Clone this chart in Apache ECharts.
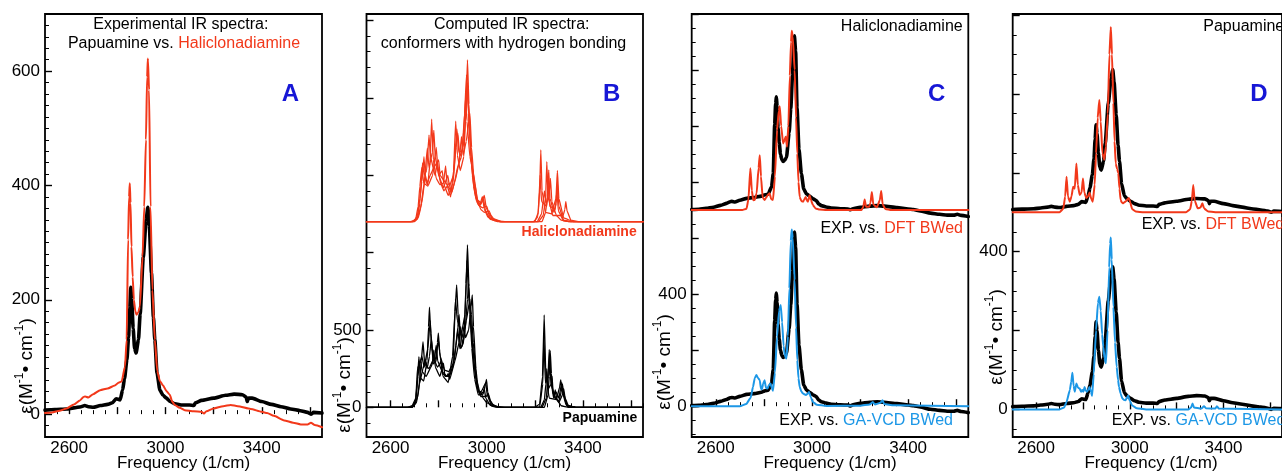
<!DOCTYPE html>
<html><head><meta charset="utf-8">
<script src="https://cdn.jsdelivr.net/npm/echarts@6/dist/echarts.min.js"></script>
<style>html,body{margin:0;padding:0;background:#fff}#c{width:1282px;height:473px}</style>
</head><body><div id="c"></div>
<script>
// ---------------- DATA ----------------
const xMin = 2500, xMax = 3650;
const xMajorTicks = [2600, 2800, 3000, 3200, 3400, 3600];
const xTickLabels = [2600, 3000, 3400];
const xMinorTicks = [2550, 2650, 2700, 2750, 2850, 2900, 2950, 3050, 3100, 3150, 3250, 3300, 3350, 3450, 3500, 3550, 3650];

// Experimental spectra (epsilon, M^-1 cm^-1)
const papuExp = [[2500,7],[2540,8],[2590,9],[2620,11],[2650,13],[2665,15],[2680,13],[2700,12],[2730,15],[2760,17],[2780,20],[2795,27],[2812,25],[2822,42],[2830,62],[2840,95],[2847,135],[2852,185],[2856,222],[2860,200],[2866,150],[2872,115],[2878,107],[2888,130],[2895,175],[2908,275],[2920,340],[2927,362],[2933,330],[2942,247],[2950,170],[2956,130],[2965,72],[2977,42],[2990,33],[3004,28],[3020,22],[3040,18],[3070,16],[3100,16],[3118,15],[3125,20],[3150,24],[3200,28],[3250,33],[3285,35],[3320,34],[3335,30],[3340,22],[3345,28],[3360,28],[3400,22],[3440,17],[3480,13],[3520,9],[3560,6],[3590,3],[3604,0],[3615,3],[3650,2]];
const haliExp = [[2500,2],[2530,3],[2560,6],[2590,10],[2620,17],[2645,24],[2660,30],[2667,31],[2680,29],[2700,35],[2729,42],[2760,45],[2790,50],[2805,55],[2818,57],[2832,83],[2839,130],[2845,305],[2849,380],[2852,404],[2855,370],[2859,293],[2864,240],[2869,200],[2875,180],[2880,174],[2887,178],[2894,188],[2905,276],[2912,363],[2919,480],[2924,590],[2927,622],[2932,567],[2938,363],[2946,217],[2956,130],[2966,75],[2977,58],[2990,50],[3005,40],[3018,34],[3028,22],[3039,16],[3059,11],[3080,7],[3118,5],[3150,4],[3160,1],[3170,5],[3200,10],[3240,14],[3271,16],[3300,14],[3354,9],[3400,4],[3422,2],[3450,-3],[3493,-11],[3530,-15],[3562,-18],[3590,-18],[3604,-15],[3620,-19],[3650,-23]];

// Computed spectra panel C/D
const haliDFT = [[2500,0],[2710,0],[2728,5],[2736,40],[2744,149],[2750,70],[2756,35],[2762,36],[2770,60],[2778,150],[2783,196],[2788,120],[2795,45],[2803,36],[2810,45],[2817,55],[2824,60],[2830,40],[2838,36],[2846,120],[2855,286],[2862,355],[2866,371],[2872,300],[2880,238],[2886,250],[2891,262],[2896,226],[2902,300],[2908,480],[2913,600],[2916,640],[2920,620],[2928,500],[2934,330],[2939,202],[2944,100],[2949,47],[2956,32],[2963,30],[2968,38],[2974,47],[2978,35],[2983,30],[2990,53],[2996,35],[3004,18],[3015,6],[3032,2],[3060,0],[3205,0],[3213,10],[3219,38],[3225,12],[3238,12],[3243,25],[3249,65],[3255,20],[3270,10],[3282,35],[3288,68],[3294,20],[3305,4],[3330,0],[3650,0]];
const haliGA = [[2500,0],[2700,0],[2727,8],[2745,30],[2755,69],[2762,100],[2769,111],[2776,100],[2783,93],[2788,62],[2792,60],[2797,80],[2803,93],[2809,65],[2815,63],[2821,75],[2828,81],[2833,65],[2838,55],[2846,120],[2855,248],[2863,340],[2870,361],[2876,300],[2882,215],[2888,178],[2894,170],[2900,250],[2906,420],[2912,590],[2916,631],[2920,600],[2928,450],[2934,280],[2939,164],[2944,100],[2949,69],[2956,52],[2963,45],[2975,40],[2983,45],[2988,51],[2995,32],[3004,15],[3020,5],[3060,1],[3200,2],[3240,6],[3253,15],[3262,6],[3285,12],[3293,21],[3300,8],[3340,3],[3650,0]];
const papuDFT = [[2500,0],[2700,0],[2716,9],[2724,40],[2730,90],[2736,40],[2744,27],[2751,40],[2758,65],[2765,60],[2772,124],[2778,70],[2786,44],[2794,50],[2800,86],[2806,50],[2814,36],[2821,40],[2828,50],[2835,35],[2842,27],[2850,70],[2856,150],[2863,240],[2870,285],[2876,230],[2883,150],[2891,133],[2898,167],[2906,250],[2913,400],[2919,470],[2924,400],[2930,277],[2935,180],[2940,124],[2946,110],[2951,99],[2956,60],[2961,31],[2966,25],[2972,23],[2978,26],[2984,28],[2990,33],[2996,36],[3002,25],[3010,8],[3025,2],[3060,0],[3240,0],[3258,8],[3265,30],[3271,69],[3277,30],[3290,10],[3302,12],[3310,23],[3317,10],[3335,2],[3380,0],[3650,0]];
const papuGA = [[2500,0],[2700,0],[2720,5],[2730,19],[2744,49],[2750,70],[2755,93],[2760,60],[2765,45],[2772,66],[2779,55],[2786,53],[2792,45],[2797,49],[2802,45],[2807,57],[2812,48],[2817,45],[2823,50],[2828,57],[2834,45],[2839,34],[2846,90],[2856,201],[2864,270],[2870,286],[2876,250],[2882,190],[2887,159],[2892,130],[2898,117],[2905,200],[2912,360],[2916,420],[2919,436],[2923,380],[2930,260],[2937,170],[2944,108],[2950,75],[2954,57],[2961,40],[2968,28],[2975,24],[2982,23],[2988,30],[2993,35],[3000,22],[3010,10],[3030,3],[3070,0],[3250,0],[3262,5],[3268,15],[3274,5],[3305,2],[3317,8],[3325,3],[3365,2],[3372,8],[3380,2],[3650,0]];

// Panel B conformers (Haliclonadiamine shifted by haliOffsetB)
const haliConf1 = [[2500,0],[2680,0],[2700,8],[2712,40],[2722,150],[2730,260],[2739,420],[2746,260],[2755,240],[2764,380],[2771,663],[2778,400],[2790,280],[2805,240],[2820,250],[2829,361],[2836,230],[2850,160],[2862,330],[2871,650],[2878,430],[2890,330],[2905,420],[2914,760],[2920,1046],[2926,760],[2935,420],[2945,230],[2958,130],[2970,100],[2982,162],[2990,80],[3005,30],[3030,8],[3060,0],[3195,0],[3212,30],[3220,200],[3225,464],[3230,200],[3245,60],[3270,50],[3288,150],[3294,331],[3300,150],[3320,25],[3360,0],[3650,0]];
const haliConf2 = [[2500,0],[2690,0],[2710,15],[2725,90],[2740,250],[2753,475],[2760,350],[2774,450],[2780,590],[2786,420],[2800,300],[2815,330],[2822,240],[2840,170],[2860,250],[2872,480],[2880,572],[2888,420],[2902,480],[2912,650],[2920,900],[2928,620],[2940,300],[2955,150],[2975,110],[2990,170],[2998,90],[3015,25],[3050,3],[3080,0],[3215,0],[3235,40],[3245,150],[3250,389],[3255,160],[3275,40],[3318,40],[3325,80],[3329,130],[3334,70],[3350,10],[3380,0],[3650,0]];
const haliConf3 = [[2500,0],[2690,0],[2705,20],[2715,100],[2722,230],[2730,350],[2738,250],[2755,230],[2775,300],[2790,480],[2796,360],[2808,250],[2822,200],[2845,250],[2852,180],[2868,260],[2885,380],[2895,550],[2902,430],[2915,520],[2930,700],[2937,480],[2950,200],[2965,110],[2982,90],[3000,100],[3008,60],[3025,15],[3060,0],[3230,0],[3245,60],[3252,160],[3258,335],[3263,150],[3280,60],[3289,120],[3294,250],[3300,100],[3320,10],[3350,0],[3650,0]];
const haliConf4 = [[2500,0],[2700,0],[2715,25],[2730,120],[2745,300],[2752,250],[2765,300],[2780,350],[2800,400],[2806,300],[2830,250],[2855,190],[2865,250],[2880,360],[2895,420],[2905,600],[2912,800],[2918,650],[2930,420],[2945,313],[2960,150],[2975,80],[2990,60],[3010,70],[3018,40],[3029,20],[3060,0],[3210,0],[3228,50],[3240,200],[3246,120],[3258,150],[3265,280],[3271,130],[3290,40],[3310,10],[3340,0],[3650,0]];
const haliConf5 = [[2500,0],[2695,0],[2712,30],[2722,120],[2733,380],[2740,300],[2750,330],[2760,560],[2766,420],[2785,300],[2795,380],[2802,290],[2820,220],[2838,300],[2845,230],[2862,300],[2876,600],[2884,450],[2898,460],[2908,700],[2916,950],[2924,700],[2936,380],[2950,250],[2962,140],[2978,120],[2986,150],[2995,70],[3015,15],[3050,0],[3200,0],[3215,60],[3222,300],[3228,130],[3250,100],[3256,250],[3262,100],[3285,80],[3292,200],[3298,70],[3320,5],[3350,0],[3650,0]];
const papuConf1 = [[2500,0],[2670,0],[2690,10],[2705,60],[2712,180],[2718,327],[2724,190],[2738,170],[2752,300],[2758,520],[2762,647],[2767,480],[2778,280],[2790,300],[2795,420],[2799,479],[2804,360],[2818,200],[2840,160],[2858,330],[2868,620],[2875,791],[2881,600],[2892,380],[2905,430],[2914,800],[2920,1050],[2926,780],[2938,380],[2950,180],[2965,80],[2985,85],[2995,150],[2999,181],[3004,100],[3020,20],[3050,3],[3080,0],[3200,0],[3220,20],[3232,200],[3239,597],[3246,200],[3260,60],[3290,50],[3303,130],[3308,177],[3313,110],[3330,15],[3370,0],[3650,0]];
const papuConf2 = [[2500,0],[2680,0],[2700,15],[2715,80],[2728,300],[2735,424],[2742,280],[2760,250],[2775,300],[2780,371],[2786,260],[2805,200],[2815,250],[2820,285],[2826,200],[2845,200],[2865,300],[2880,520],[2885,600],[2890,480],[2898,450],[2905,521],[2912,450],[2925,500],[2935,650],[2940,726],[2945,520],[2955,250],[2965,100],[2975,101],[2985,60],[3000,30],[3030,5],[3070,0],[3230,0],[3248,60],[3255,200],[3260,375],[3265,200],[3278,60],[3285,112],[3292,50],[3310,10],[3340,0],[3650,0]];
const papuConf3 = [[2500,0],[2690,0],[2705,40],[2714,200],[2720,290],[2725,300],[2732,230],[2748,200],[2768,260],[2784,330],[2790,400],[2796,300],[2815,230],[2835,200],[2840,220],[2846,180],[2868,300],[2885,420],[2892,521],[2898,400],[2910,500],[2920,700],[2925,800],[2931,600],[2945,300],[2960,130],[2975,80],[2985,100],[2990,120],[2996,60],[3015,12],[3050,0],[3240,0],[3255,80],[3260,200],[3264,366],[3269,220],[3275,100],[3283,60],[3300,40],[3310,100],[3315,150],[3320,90],[3335,10],[3370,0],[3650,0]];
const papuConf4 = [[2500,0],[2690,0],[2708,30],[2720,150],[2735,250],[2745,300],[2752,250],[2762,330],[2770,450],[2776,330],[2795,260],[2805,280],[2810,300],[2816,220],[2830,200],[2845,210],[2850,230],[2858,250],[2872,400],[2880,500],[2888,380],[2900,400],[2915,560],[2930,700],[2936,500],[2950,250],[2962,120],[2975,70],[2998,70],[3005,90],[3012,50],[3030,8],[3060,0],[3225,0],[3240,50],[3246,150],[3250,250],[3256,120],[3268,150],[3272,200],[3276,90],[3300,30],[3315,80],[3320,120],[3326,60],[3340,8],[3370,0],[3650,0]];
const papuConf5 = [[2500,0],[2690,0],[2705,50],[2712,250],[2720,280],[2730,330],[2740,260],[2755,380],[2765,560],[2772,380],[2785,300],[2800,430],[2806,330],[2825,240],[2842,230],[2860,280],[2870,700],[2878,560],[2895,480],[2910,600],[2918,950],[2925,700],[2937,600],[2944,420],[2958,180],[2972,90],[2980,110],[2996,160],[3002,80],[3020,10],[3050,0],[3220,0],[3233,150],[3238,450],[3244,160],[3258,200],[3262,340],[3267,150],[3282,80],[3288,100],[3300,60],[3312,160],[3318,90],[3335,5],[3370,0],[3650,0]];

// vertical offsets used in the original figure
const haliOffsetB = 1200;
const haliOffsetC = 700;
const papuOffsetD = 500;

// y tick labels per panel
const yLabelsA = [0, 200, 400, 600];
const yLabelsB = [0, 500];
const yLabelsC = [0, 400];
const yLabelsD = [0, 400];

// ---------------- STYLE / LAYOUT ----------------
const FONT = "'Liberation Sans', Arial, Helvetica, sans-serif";
const RED = '#f2381a', BLUE = '#1c97e6', BLK = '#000', LETTER = '#1717d6';
function range(a, b, s, skip) { const r = []; for (let v = a; v <= b + 1e-9; v += s) { if (!skip || Math.abs(v % skip) > 1e-6) r.push(v); } return r; }

const panels = [
  { left: 45, width: 277, yMin: -40, yMax: 700, yMajor: [0,200,400,600], yLabels: yLabelsA, yMinor: range(-20, 680, 20, 200) },
  { left: 366.5, width: 276.5, yMin: -192, yMax: 2543, yMajor: [0,500,1000,1500,2000,2500], yLabels: yLabelsB, yMinor: range(-100, 2400, 100, 500) },
  { left: 691.7, width: 276.6, yMin: -110, yMax: 1400, yMajor: [0,200,400,600,800,1000,1200,1400], yLabels: yLabelsC, yMinor: range(-100, 1350, 50, 200) },
  { left: 1012.7, width: 277, yMin: -70, yMax: 1003, yMajor: [0,200,400,600,800,1000], yLabels: yLabelsD, yMinor: range(-50, 950, 50, 200) }
];
const TOP = 14, H = 423;
const fmt = v => String(v);

const grid = [], xAxis = [], yAxis = [];
panels.forEach((p, i) => {
  grid.push({ left: p.left, top: TOP, width: p.width, height: H, show: true, borderColor: '#000', borderWidth: 1.8, backgroundColor: 'transparent', containLabel: false });
  const base = { type: 'value', gridIndex: i, splitLine: { show: false }, axisLine: { show: false } };
  xAxis.push(Object.assign({}, base, { min: xMin, max: xMax, position: 'bottom',
    axisTick: { show: true, inside: true, length: 7, customValues: xMajorTicks, lineStyle: { color: '#000', width: 1.4 } },
    axisLabel: { show: true, customValues: xTickLabels, formatter: fmt, color: '#000', fontSize: 17, margin: 3, fontFamily: FONT } }));
  xAxis.push(Object.assign({}, base, { min: xMin, max: xMax, position: 'bottom',
    axisTick: { show: true, inside: true, length: 4, customValues: xMinorTicks, lineStyle: { color: '#000', width: 1 } },
    axisLabel: { show: false } }));
  yAxis.push(Object.assign({}, base, { min: p.yMin, max: p.yMax, position: 'left',
    axisTick: { show: true, inside: true, length: 7, customValues: p.yMajor, lineStyle: { color: '#000', width: 1.4 } },
    axisLabel: { show: true, customValues: p.yLabels, formatter: fmt, color: '#000', fontSize: 17, margin: 5, fontFamily: FONT } }));
  yAxis.push(Object.assign({}, base, { min: p.yMin, max: p.yMax, position: 'left',
    axisTick: { show: true, inside: true, length: 4, customValues: p.yMinor, lineStyle: { color: '#000', width: 1 } },
    axisLabel: { show: false } }));
});

function line(gi, data, off, color, width, smooth, z) {
  return { type: 'line', xAxisIndex: 2 * gi, yAxisIndex: 2 * gi, data: data.map(d => [d[0], d[1] + off]),
    showSymbol: false, symbol: 'none', smooth: smooth, smoothMonotone: 'x', silent: true, z: z || 2,
    lineStyle: { color: color, width: width, join: 'round', cap: 'round' } };
}

const series = [
  // A
  line(0, papuExp, 0, BLK, 3.6, 0.2, 2),
  line(0, haliExp, 0, RED, 2, 0.2, 3),
  // B
  line(1, papuConf1, 0, BLK, 1.3, 0.1), line(1, papuConf2, 0, BLK, 1.3, 0.1),
  line(1, papuConf3, 0, BLK, 1.3, 0.1), line(1, papuConf4, 0, BLK, 1.3, 0.1),
  line(1, papuConf5, 0, BLK, 1.3, 0.1),
  line(1, haliConf1, haliOffsetB, RED, 1.3, 0.1), line(1, haliConf2, haliOffsetB, RED, 1.3, 0.1),
  line(1, haliConf3, haliOffsetB, RED, 1.3, 0.1), line(1, haliConf4, haliOffsetB, RED, 1.3, 0.1),
  line(1, haliConf5, haliOffsetB, RED, 1.3, 0.1),
  // C
  line(2, haliExp, haliOffsetC, BLK, 3.6, 0.2, 2),
  line(2, haliDFT, haliOffsetC, RED, 2, 0.15, 3),
  line(2, haliExp, 0, BLK, 3.6, 0.2, 2),
  line(2, haliGA, 0, BLUE, 2, 0.15, 3),
  // D
  line(3, papuExp, papuOffsetD, BLK, 3.6, 0.2, 2),
  line(3, papuDFT, papuOffsetD, RED, 2, 0.15, 3),
  line(3, papuExp, 0, BLK, 3.6, 0.2, 2),
  line(3, papuGA, 0, BLUE, 2, 0.15, 3)
];

function txt(x, y, text, o) {
  o = o || {};
  return { type: 'text', x: x, y: y, rotation: o.rot || 0, z: 10, silent: true,
    style: { text: text, fontSize: o.fs || 16, fontFamily: FONT, fontWeight: o.fw || 'normal', fill: o.fill || '#000',
      align: o.align || 'center', verticalAlign: 'middle', rich: o.rich } };
}
const richMix = { k: { fill: '#000', color: '#000', fontSize: 16, fontFamily: FONT }, r: { fill: RED, color: RED, fontSize: 16, fontFamily: FONT }, b: { fill: BLUE, color: BLUE, fontSize: 16, fontFamily: FONT } };
const richY = { a: { fill: '#000', fontSize: 19, fontFamily: FONT, lineHeight: 22, verticalAlign: 'bottom' }, s: { fill: '#000', fontSize: 12, fontFamily: FONT, lineHeight: 22, verticalAlign: 'top' } };
const yLab = '{a|ε(M}{s|-1}{a|• cm}{s|-1}{a|)}';

const graphic = [
  txt(180.8, 25, 'Experimental IR spectra:'),
  txt(184, 43.5, '{k|Papuamine vs. }{r|Haliclonadiamine}', { rich: richMix }),
  txt(511.7, 25, 'Computed IR spectra:'),
  txt(503.5, 44, 'conformers with hydrogen bonding'),
  txt(636.7, 232.3, 'Haliclonadiamine', { fs: 14, fw: 'bold', fill: RED, align: 'right' }),
  txt(637.3, 418.3, 'Papuamine', { fs: 14, fw: 'bold', align: 'right' }),
  txt(962.7, 26.7, 'Haliclonadiamine', { align: 'right' }),
  txt(963, 228.3, '{k|EXP. vs. }{r|DFT BWed}', { rich: richMix, align: 'right' }),
  txt(953, 420.7, '{k|EXP. vs. }{b|GA-VCD BWed}', { rich: richMix, align: 'right' }),
  txt(1203.3, 26.7, 'Papuamine', { align: 'left' }),
  txt(1141.7, 225, '{k|EXP. vs. }{r|DFT BWed}', { rich: richMix, align: 'left' }),
  txt(1111.7, 420.7, '{k|EXP. vs. }{b|GA-VCD BWed}', { rich: richMix, align: 'left' }),
  txt(290.5, 94.7, 'A', { fs: 24, fw: 'bold', fill: LETTER }),
  txt(611.7, 94.7, 'B', { fs: 24, fw: 'bold', fill: LETTER }),
  txt(936.7, 94.7, 'C', { fs: 24, fw: 'bold', fill: LETTER }),
  txt(1259, 94.7, 'D', { fs: 24, fw: 'bold', fill: LETTER }),
  txt(183.5, 463, 'Frequency (1/cm)', { fs: 17 }),
  txt(504.5, 463, 'Frequency (1/cm)', { fs: 17 }),
  txt(830, 463, 'Frequency (1/cm)', { fs: 17 }),
  txt(1151, 463, 'Frequency (1/cm)', { fs: 17 }),
  txt(25, 366, yLab, { rich: richY, rot: Math.PI / 2 }),
  txt(343, 385, yLab, { rich: richY, rot: Math.PI / 2 }),
  txt(663, 362, yLab, { rich: richY, rot: Math.PI / 2 }),
  txt(995, 337, yLab, { rich: richY, rot: Math.PI / 2 })
];

const chart = echarts.init(document.getElementById('c'), null, { renderer: 'canvas' });
chart.setOption({ animation: false, backgroundColor: '#fff', grid, xAxis, yAxis, series, graphic });
</script>
</body></html>
